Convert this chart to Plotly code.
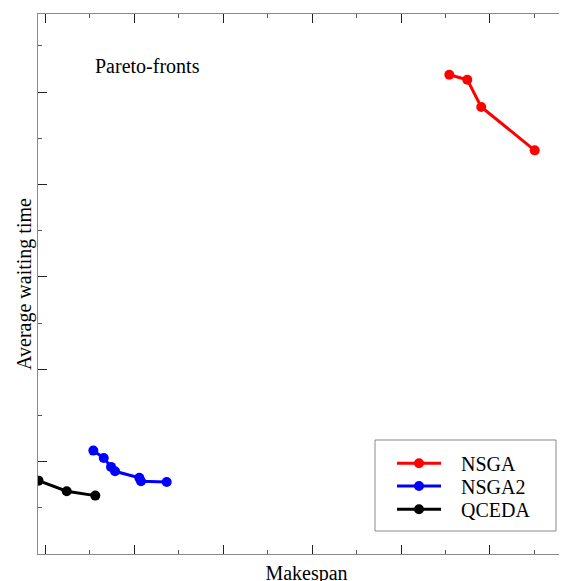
import plotly.graph_objects as go

# Data (arbitrary units; axes have no tick labels)
nsga_x = [45.43, 47.45, 49.02, 55.03]
nsga_y = [51.88, 51.34, 48.39, 43.69]
nsga2_x = [5.41, 6.58, 7.40, 7.85, 10.58, 10.77, 13.66]
nsga2_y = [11.19, 10.40, 9.43, 8.95, 8.24, 7.87, 7.80]
qceda_x = [-0.75, 2.42, 5.63]
qceda_y = [7.94, 6.79, 6.32]

series = [
    ("NSGA", nsga_x, nsga_y, "#ff0000", "legend"),
    ("NSGA2", nsga2_x, nsga2_y, "#0000ff", "legend2"),
    ("QCEDA", qceda_x, qceda_y, "#000000", "legend3"),
]

FONT = "Liberation Serif, Times New Roman, serif"
W, H = 567, 581
ML, MR, MT, MB = 30, 0, 6, 35
PW, PH = W - ML - MR, H - MT - MB


def px(xf):  # figure pixel -> paper x
    return (xf - ML) / PW


def py(yf):  # figure pixel -> paper y
    return 1 - (yf - MT) / PH


fig = go.Figure()
for name, xs, ys, col, lg in series:
    fig.add_trace(go.Scatter(
        x=xs, y=ys, name="   " + name, mode="lines+markers",
        line=dict(color=col, width=3),
        marker=dict(color=col, size=10),
        legend=lg,
    ))

axis_common = dict(
    showgrid=False, zeroline=False, showticklabels=False,
    showline=True, linecolor="#8a8a8a", linewidth=1,
    ticks="inside", tickcolor="#222222", tickwidth=1, ticklen=9,
    title_font=dict(family=FONT, size=20, color="#000000"),
)

legend_common = dict(
    xanchor="left", yanchor="middle",
    borderwidth=0, bgcolor="rgba(0,0,0,0)",
    font=dict(family=FONT, size=20, color="#000000"),
    itemwidth=44,
)
leg_x = px(384)
row_y = [455.3, 478.0, 501.3]

fig.update_layout(
    width=W, height=H,
    margin=dict(l=ML, r=MR, t=MT, b=MB),
    paper_bgcolor="white", plot_bgcolor="white",
    font=dict(family=FONT, size=20, color="#000000"),
    xaxis=dict(
        range=[-0.81, 59.56], tick0=0, dtick=10, mirror="ticks",
        minor=dict(ticks="inside", dtick=5, tick0=0, ticklen=4, tickcolor="#555555"),
        title=dict(text="Makespan", standoff=11),
        **axis_common,
    ),
    yaxis=dict(
        range=[0.0, 58.45], tick0=0, dtick=10,
        minor=dict(ticks="inside", dtick=5, tick0=0, ticklen=4, tickcolor="#555555"),
        title=dict(text="Average waiting time", standoff=0),
        **axis_common,
    ),
    legend=dict(x=leg_x, y=py(row_y[0]), **legend_common),
    legend2=dict(x=leg_x, y=py(row_y[1]), **legend_common),
    legend3=dict(x=leg_x, y=py(row_y[2]), **legend_common),
    showlegend=True,
    shapes=[dict(
        type="rect", xref="paper", yref="paper",
        x0=px(367), x1=px(548), y0=py(523), y1=py(432),
        line=dict(color="#8a8a8a", width=1), fillcolor="rgba(0,0,0,0)",
        layer="below",
    )],
    annotations=[dict(
        text="Pareto-fronts", xref="paper", yref="paper",
        x=px(85), y=py(58), xanchor="left", yanchor="middle",
        showarrow=False, font=dict(family=FONT, size=20, color="#000000"),
    )],
)

fig.write_html("out.html")
